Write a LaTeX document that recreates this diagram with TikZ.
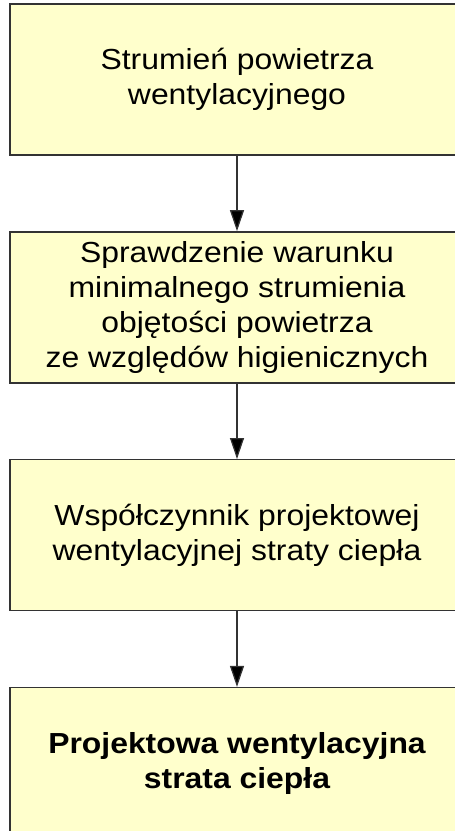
\documentclass[tikz,border=0pt]{standalone}
\usepackage{fontspec}
\setmainfont[FakeStretch=1.1]{Liberation Sans}
\usetikzlibrary{positioning,arrows.meta}

\definecolor{boxfill}{HTML}{FFFFCC}
\definecolor{boxline}{HTML}{333333}

\begin{document}
\begin{tikzpicture}[x=0.02cm,y=-0.02cm,
	krok/.style={draw=boxline, fill=boxfill, line width=0.8pt,
		minimum width=9.08cm, minimum height=3.02cm, inner sep=0pt,
		align=center, font=\fontsize{16.5}{20}\selectfont},
	strzalka/.style={draw=boxline, line width=0.7pt,
		-{Triangle[length=0.42cm,width=0.28cm,fill=black]}},
	node distance=1.51cm]
	% Fix the page size
	\useasboundingbox (0,0) rectangle (454,831);
	
	% Draw the boxes
	\node[krok] (strumien) at (237,79.5) {Strumień powietrza\\wentylacyjnego};
	\node[krok, below=of strumien] (warunek) {Sprawdzenie warunku\\minimalnego strumienia\\objętości powietrza\\ze względów higienicznych};
	\node[krok, below=of warunek] (wspolczynnik) {Współczynnik projektowej\\wentylacyjnej straty ciepła};
	\node[krok, below=of wspolczynnik, font=\fontsize{16.5}{20}\selectfont\bfseries] (strata) {Projektowa wentylacyjna\\strata ciepła};
	
	% Draw the arrows
	\draw[strzalka] (strumien) -- (warunek);
	\draw[strzalka] (warunek) -- (wspolczynnik);
	\draw[strzalka] (wspolczynnik) -- (strata);
\end{tikzpicture}
\end{document}
